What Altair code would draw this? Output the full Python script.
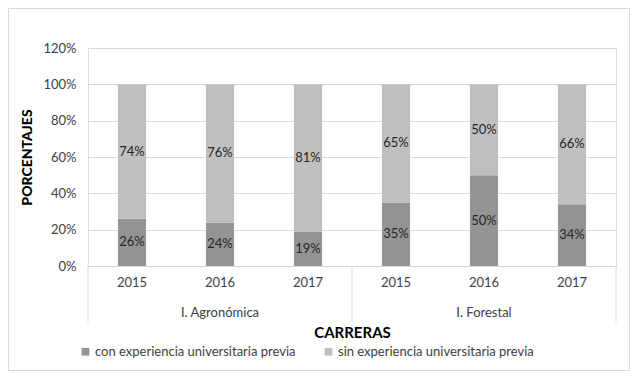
import altair as alt
import pandas as pd

groups = ["I. Agronómica", "I. Agronómica", "I. Agronómica", "I. Forestal", "I. Forestal", "I. Forestal"]
years = ["2015", "2016", "2017", "2015", "2016", "2017"]
con_exp = [26, 24, 19, 35, 50, 34]
sin_exp = [74, 76, 81, 65, 50, 66]
series_names = ["con experiencia universitaria previa", "sin experiencia universitaria previa"]
colors = ["#949494", "#bfbfbf"]
y_ticks = [0, 0.2, 0.4, 0.6, 0.8, 1.0, 1.2]

keys = [f"{g} {y}" for g, y in zip(groups, years)]
rows = []
for k, g, y, c, s in zip(keys, groups, years, con_exp, sin_exp):
    rows.append({"key": k, "group": g, "year": y, "series": series_names[0], "order": 0, "value": c / 100})
    rows.append({"key": k, "group": g, "year": y, "series": series_names[1], "order": 1, "value": s / 100})
df = pd.DataFrame(rows)

W, H = 528, 218
FONT = "Lato"

xscale = alt.Scale(paddingInner=0, paddingOuter=0)
yscale = alt.Scale(domain=[0, 1.2], nice=False)

xaxis = alt.Axis(title="CARRERAS", labelExpr="slice(datum.label, -4)",
                 ticks=False, domainColor="#d9d9d9", labelPadding=10,
                 labelFont=FONT, labelFontSize=13, labelColor="#404040", labelAngle=0,
                 titleFont=FONT, titleFontSize=15, titleFontWeight="bold", titleColor="#000000",
                 titleY=66, titleBaseline="middle")
yaxis = alt.Axis(title="PORCENTAJES", format=".0%", values=y_ticks,
                 labelOverlap=False,
                 domain=False, ticks=False, gridColor="#d9d9d9", labelPadding=12,
                 labelFont=FONT, labelFontSize=13, labelColor="#404040",
                 titleFont=FONT, titleFontSize=14, titleFontWeight=900, titleColor="#000000",
                 titleAngle=-90, titleX=-61, titleY=H / 2, titleAlign="center",
                 titleBaseline="middle")

base = alt.Chart(df).transform_stack(
    stack="value", groupby=["key"], as_=["v0", "v1"], sort=[alt.SortField("order", "ascending")]
).transform_calculate(mid="(datum.v0 + datum.v1) / 2")

bars = base.mark_bar(width=alt.RelativeBandSize(0.32)).encode(
    x=alt.X("key:N", sort=keys, scale=xscale, axis=xaxis),
    y=alt.Y("v0:Q", scale=yscale, axis=yaxis),
    y2="v1:Q",
    color=alt.Color("series:N", scale=alt.Scale(domain=series_names, range=colors),
                    legend=alt.Legend(title=None, orient="none", legendX=-9, legendY=297,
                                      direction="horizontal", columns=2, columnPadding=26,
                                      symbolType="square", symbolSize=60, symbolStrokeWidth=0,
                                      labelFont=FONT, labelFontSize=13, labelColor="#404040",
                                      labelLimit=400, labelOffset=3)),
    order=alt.Order("order:Q"),
)

labels = base.mark_text(font=FONT, fontSize=13, color="#262626", baseline="middle").encode(
    x=alt.X("key:N", sort=keys, scale=xscale, axis=xaxis),
    y=alt.Y("mid:Q", scale=yscale, axis=yaxis),
    text=alt.Text("value:Q", format=".0%"),
)

sep_df = pd.DataFrame({"key": [keys[0], keys[3], keys[5]], "edge": [0, 0, 1]})
sep_left = alt.Chart(sep_df).transform_filter("datum.edge == 0").mark_rule(color="#d9d9d9").encode(
    x=alt.X("key:N", sort=keys, bandPosition=0, scale=xscale, axis=xaxis),
    y=alt.value(H), y2=alt.value(H + 56))
sep_right = alt.Chart(sep_df).transform_filter("datum.edge == 1").mark_rule(color="#d9d9d9").encode(
    x=alt.X("key:N", sort=keys, bandPosition=1, scale=xscale, axis=xaxis),
    y=alt.value(H), y2=alt.value(H + 56))

grp_df = pd.DataFrame({"key": keys, "group": groups, "year": years})
group_labels = alt.Chart(grp_df).transform_filter("datum.year == '2016'").mark_text(
    font=FONT, fontSize=13, color="#404040", baseline="middle").encode(
    x=alt.X("key:N", sort=keys, scale=xscale, axis=xaxis), y=alt.value(H + 47), text="group:N")

frame = alt.Chart(pd.DataFrame({"a": [0]})).mark_rect(fill="transparent", stroke="#d9d9d9").encode(
    x=alt.value(-79.5), x2=alt.value(541.5), y=alt.value(-39.5), y2=alt.value(322.5))

chart = alt.layer(frame, bars, labels, sep_left, sep_right, group_labels).properties(
    width=W, height=H,
    autosize=alt.AutoSizeParams(type="none"),
    padding={"left": 80, "top": 40, "right": 15, "bottom": 106},
).configure_view(stroke=None).configure(background="white")

chart.save("out.html", embed_options={"renderer": "svg", "actions": False})
